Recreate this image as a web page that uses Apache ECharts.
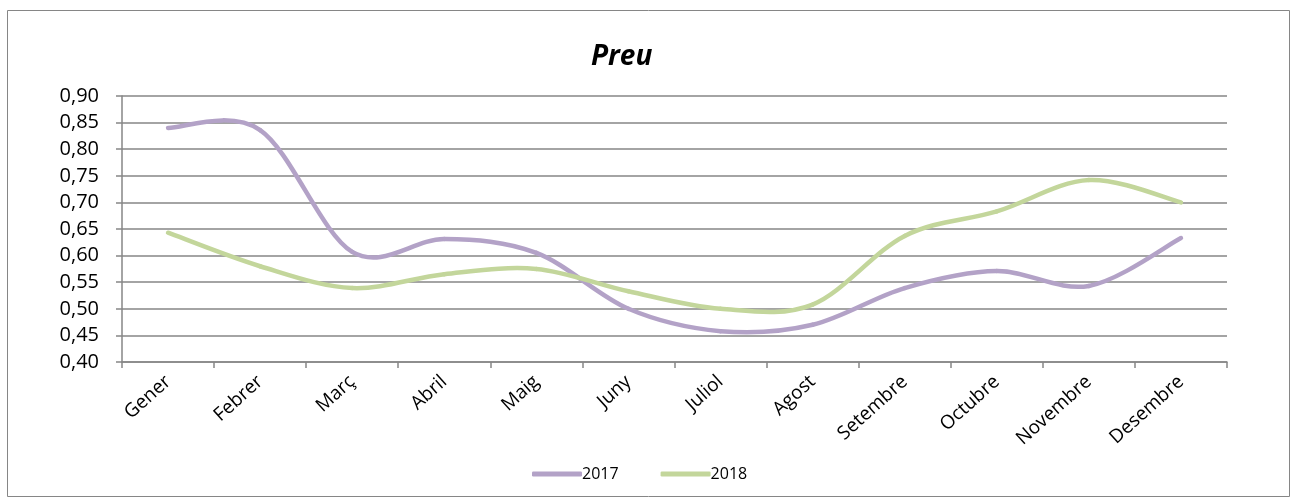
<!DOCTYPE html>
<html>
<head>
<meta charset="utf-8">
<script src="https://cdn.jsdelivr.net/npm/echarts@6/dist/echarts.min.js"></script>
<style>
  html, body { margin: 0; padding: 0; background: #fff; }
  #main { width: 1293px; height: 500px; }
</style>
</head>
<body>
<div id="main"></div>
<script>
// Dades
const months = ['Gener', 'Febrer', 'Març', 'Abril', 'Maig', 'Juny', 'Juliol', 'Agost', 'Setembre', 'Octubre', 'Novembre', 'Desembre'];
const preu2017 = [0.84, 0.836, 0.607, 0.631, 0.605, 0.50, 0.458, 0.47, 0.539, 0.571, 0.543, 0.633];
const preu2018 = [0.643, 0.58, 0.539, 0.565, 0.575, 0.533, 0.50, 0.508, 0.637, 0.683, 0.742, 0.70];
const seriesNames = ['2017', '2018'];
const colors = ['#B3A2C7', '#C3D69B'];

const font = 'Open Sans';
const chart = echarts.init(document.getElementById('main'));

// corba suau tipus Excel (Catmull-Rom) a partir de les coordenades de l'eix
function smoothSeries(name, values, color) {
  const n = values.length;
  return {
    name: name,
    type: 'custom',
    data: values.map((v, i) => [i, v]),
    encode: { x: 0, y: 1 },
    itemStyle: { color: color },
    renderItem: function (params, api) {
      const i = params.dataIndex;
      if (i >= n - 1) return null;
      const p = k => api.coord([Math.min(Math.max(k, 0), n - 1), values[Math.min(Math.max(k, 0), n - 1)]]);
      const p0 = p(i - 1), p1 = p(i), p2 = p(i + 1), p3 = p(i + 2);
      return {
        type: 'bezierCurve',
        shape: {
          x1: p1[0], y1: p1[1],
          cpx1: p1[0] + (p2[0] - p0[0]) / 6, cpy1: p1[1] + (p2[1] - p0[1]) / 6,
          cpx2: p2[0] - (p3[0] - p1[0]) / 6, cpy2: p2[1] - (p3[1] - p1[1]) / 6,
          x2: p2[0], y2: p2[1],
        },
        style: { stroke: color, lineWidth: 4.5, fill: null, lineCap: 'round' },
      };
    },
  };
}

chart.setOption({
  animation: false,
  backgroundColor: '#fff',
  title: {
    text: 'Preu',
    left: 586,
    top: 38,
    textStyle: { fontFamily: font, fontSize: 28, fontWeight: 'bold', fontStyle: 'italic', color: '#000' },
  },
  graphic: [
    {
      type: 'rect',
      shape: { x: 7.5, y: 10.5, width: 1282, height: 486 },
      style: { fill: null, stroke: '#868686', lineWidth: 1 },
    },
  ],
  legend: {
    top: 461,
    left: 527,
    itemWidth: 50,
    itemHeight: 5,
    itemGap: 42,
    icon: 'roundRect',
    textStyle: { fontFamily: font, fontSize: 16, color: '#000', padding: [0, 0, 0, -5] },
    data: seriesNames,
  },
  grid: { left: 122, right: 66, top: 96, bottom: 138 },
  xAxis: {
    type: 'category',
    data: months,
    boundaryGap: true,
    axisLine: { lineStyle: { color: '#868686', width: 1.5 } },
    axisTick: { show: true, length: 6, lineStyle: { color: '#868686', width: 1.5 } },
    axisLabel: { rotate: 42, fontFamily: font, fontSize: 19, color: '#000', margin: 17 },
  },
  yAxis: {
    type: 'value',
    min: 0.4,
    max: 0.9,
    interval: 0.05,
    axisLine: { show: true, lineStyle: { color: '#868686', width: 1.5 } },
    axisTick: { show: true, length: 6, lineStyle: { color: '#868686', width: 1.5 } },
    splitLine: { lineStyle: { color: '#868686', width: 1.5 } },
    axisLabel: {
      fontFamily: font,
      fontSize: 20,
      color: '#000',
      margin: 23,
      formatter: v => v.toFixed(2).replace('.', ','),
    },
  },
  series: [
    smoothSeries(seriesNames[0], preu2017, colors[0]),
    smoothSeries(seriesNames[1], preu2018, colors[1]),
  ],
});
</script>
</body>
</html>
